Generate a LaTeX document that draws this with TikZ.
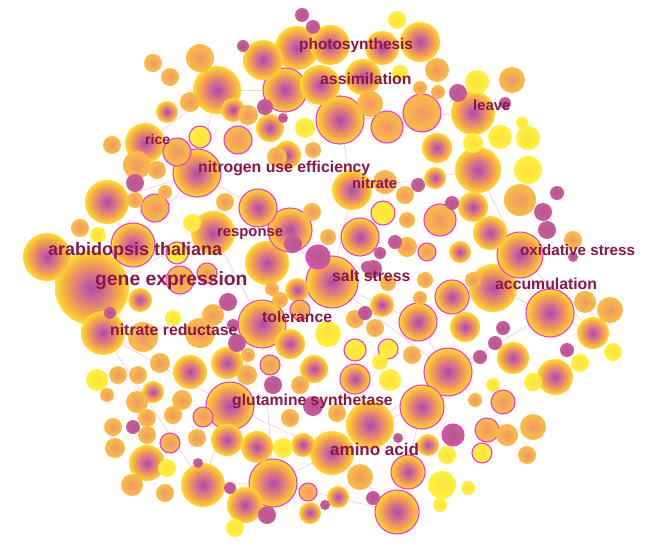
\documentclass[tikz,border=0pt]{standalone}
\usepackage{fontspec}
\setmainfont{Liberation Sans}
\definecolor{cP}{RGB}{170,76,170}
\definecolor{cPk}{RGB}{212,108,145}
\definecolor{cO}{RGB}{246,168,72}
\definecolor{cY}{RGB}{255,226,40}
\definecolor{cY2}{RGB}{255,238,50}
\definecolor{oC}{RGB}{238,150,100}
\definecolor{oM}{RGB}{247,178,78}
\definecolor{oE}{RGB}{252,198,62}
\definecolor{yC}{RGB}{253,225,62}
\definecolor{yM}{RGB}{255,236,58}
\definecolor{yE}{RGB}{255,242,65}
\definecolor{mC}{RGB}{186,82,150}
\definecolor{mE}{RGB}{202,100,150}
\definecolor{ringc}{RGB}{232,60,215}
\definecolor{edgec}{RGB}{238,200,228}
\definecolor{labc}{RGB}{138,22,72}
\pgfdeclareradialshading{nodeS}{\pgfpoint{0bp}{0bp}}{color(0bp)=(cP); color(8bp)=(cPk); color(18bp)=(cO); color(26bp)=(cY); color(35bp)=(cY2); color(50bp)=(cY2)}
\pgfdeclareradialshading{nodeO}{\pgfpoint{0bp}{0bp}}{color(0bp)=(oC); color(16bp)=(oM); color(35bp)=(oE); color(50bp)=(oE)}
\pgfdeclareradialshading{nodeY}{\pgfpoint{0bp}{0bp}}{color(0bp)=(yC); color(16bp)=(yM); color(35bp)=(yE); color(50bp)=(yE)}
\pgfdeclareradialshading{nodeM}{\pgfpoint{0bp}{0bp}}{color(0bp)=(mC); color(35bp)=(mE); color(50bp)=(mE)}
\pgfdeclarelayer{bg}
\pgfsetlayers{bg,main}
\begin{document}
\begin{tikzpicture}[x=1pt,y=-1pt,
  ringline/.style={draw=ringc,line width=1.1pt},
  edge/.style={draw=edgec,line width=0.6pt},
  lab/.style={text=labc,inner sep=0pt,anchor=mid west},
  labsz/.style={font=\bfseries\fontsize{#1}{#1}\selectfont}]
\useasboundingbox (0,0) rectangle (661,549);
% hub coordinates
\coordinate (ge) at (92,288);
\coordinate (at) at (133,245);
\coordinate (nr) at (103,333);
\coordinate (nue) at (197,173);
\coordinate (rice) at (145,143);
\coordinate (resp) at (213,233);
\coordinate (ph) at (297,48);
\coordinate (as) at (320,85);
\coordinate (lv) at (473,113);
\coordinate (nit) at (352,190);
\coordinate (ss) at (332,282);
\coordinate (tol) at (262,324);
\coordinate (gs) at (230,406);
\coordinate (aa) at (332,453);
\coordinate (ox) at (520,255);
\coordinate (acc) at (493,288);
\coordinate (h1) at (448,372);
\coordinate (h2) at (422,407);
\coordinate (h3) at (273,483);
\coordinate (h4) at (397,512);
\coordinate (h5) at (550,313);
\coordinate (h6) at (340,120);
\coordinate (h7) at (258,208);
\coordinate (h8) at (203,485);
\coordinate (h9) at (418,322);
\coordinate (h10) at (478,170);
\coordinate (h11) at (47,257);
\coordinate (h12) at (107,202);
\coordinate (h13) at (593,333);
\coordinate (h14) at (370,425);
\coordinate (h15) at (285,90);
\coordinate (h16) at (217,90);
\begin{pgfonlayer}{bg}
\fill[white] (0,0) rectangle (661,549);
\foreach \a/\b in {ge/at,ge/nr,ge/resp,ge/h11,at/nue,nue/rice,nue/h7,h7/ss,ss/tol,tol/gs,gs/aa,aa/h4,h3/h4,h3/h8,h8/gs,ss/h1,h1/h2,h2/h4,h9/ss,h9/acc,acc/ox,ox/h5,h5/h1,nit/ss,nit/h10,h10/lv,lv/h6,h6/as,as/ph,h6/nit,resp/tol,nr/gs,h9/h1,ox/h10,h12/nue,h3/aa,h5/acc,h13/h5,h14/h2,h14/aa,h15/h6,h16/nue,h16/h15,rice/h16,h12/at,tol/h3,nr/h8,h13/ox,lv/h10,h14/h1}
  \draw[edge] (\a) -- (\b);
\end{pgfonlayer}
% large circles
\foreach \x/\y/\r/\t/\k in {
92/288/37/S/0, 47/257/24/S/0, 217/90/24/S/0, 197/173/24/S/1, 340/120/24/S/1,
448/372/24/S/1, 230/406/24/S/1, 273/483/24/S/1, 262/324/24/S/1, 550/313/24/S/1,
493/288/24/S/0, 370/425/24/S/0, 478/170/23/S/0, 520/255/23/S/1, 332/282/26/S/1,
297/48/22/S/0, 285/90/22/S/1, 473/113/22/S/0, 107/202/22/S/0, 213/233/22/S/0,
267/263/22/S/0, 290/230/22/S/1, 133/245/22/S/1, 103/333/22/S/0, 332/453/22/S/0,
203/485/22/S/0, 422/407/22/S/1, 397/512/22/S/1, 263/60/20/S/0, 330/45/20/S/0,
420/42/20/S/0, 320/85/20/S/0, 145/143/20/S/0, 352/190/20/S/0, 258/208/19/S/1,
360/237/19/S/1, 418/322/19/S/1, 422/113/19/O/1, 363/77/18/S/0, 555/377/18/S/0,
190/372/17/S/0, 147/463/18/S/0, 245/505/18/S/0}
{\shade[shading=node\t] (\x,\y) circle (\r pt);
 \ifnum\k=1 \draw[ringline] (\x,\y) circle (\r pt);\fi}
% medium circles
\foreach \x/\y/\r/\t/\k in {
382/48/17/S/0, 490/233/17/S/0, 452/297/17/S/1, 408/472/17/S/1, 387/127/16/O/1,
440/220/16/O/1, 520/200/16/O/0, 593/333/16/S/0, 513/358/16/S/0, 227/363/16/S/0,
227/440/16/S/0, 257/447/16/S/0, 437/148/15/S/0, 473/207/15/S/0, 465/327/15/S/0,
290/344/15/S/0, 355/379/15/S/1, 143/337/15/O/0, 200/333/15/O/0, 314/369/14/S/0,
270/128/14/S/0, 287/155/14/S/0, 238/140/14/O/1, 177/152/14/O/1, 137/165/14/O/0,
200/58/14/O/0, 155/208/14/O/1, 180/280/14/O/1, 528/170/14/Y/0, 442/485/14/Y/0,
370/104/13/O/0, 512/80/13/O/0, 610/310/13/O/0, 533/427/13/O/0, 360/477/13/O/0,
328/334/13/Y/0, 233/110/12/S/0, 140/300/12/S/0, 297/290/12/S/0, 382/305/12/S/0,
303/445/12/S/0, 437/70/12/O/0, 385/182/12/O/0, 503/402/12/O/1, 487/430/12/O/1,
383/213/12/Y/1, 318/257/12/M/1, 477/82/12/Y/0, 528/138/12/Y/0, 500/137/12/Y/0,
167/112/11/S/0, 435/178/11/S/0, 460/252/11/S/0, 153/392/11/S/0, 428/445/11/S/0,
310/513/11/S/0, 338/497/11/S/0, 585/302/11/O/0, 507/435/11/O/0, 213/315/11/O/0,
97/380/11/Y/0, 137/402/11/O/0, 132/485/11/O/0, 200/137/11/Y/1, 177/253/11/Y/1,
355/350/11/Y/1, 453/435/11/M/1, 390/380/11/Y/0}
{\shade[shading=node\t] (\x,\y) circle (\r pt);
 \ifnum\k=1 \draw[ringline] (\x,\y) circle (\r pt);\fi}
% small circles
\foreach \x/\y/\r/\t/\k in {
190/102/10/O/0, 248/115/10/O/0, 277/157/10/O/0, 407/247/10/O/0, 207/273/10/O/1,
300/310/10/O/1, 160/363/10/O/0, 247/375/10/O/0, 182/400/10/O/0, 115/448/10/O/0,
270/365/10/O/1, 203/417/10/O/1, 170/443/10/O/1, 388/349/10/Y/1, 482/453/10/Y/1,
305/128/10/Y/0, 473/143/10/Y/0, 283/448/10/Y/0, 153/63/9/O/0, 170/77/9/O/0,
112/145/9/O/0, 157/170/9/O/0, 225/202/9/O/0, 80/228/9/O/0, 405/195/9/O/0,
573/240/9/O/0, 312/212/9/O/0, 118/375/9/O/0, 138/375/9/O/0, 300/385/9/O/0,
173/415/9/O/0, 147/418/9/O/0, 113/427/9/O/0, 147/435/9/O/0, 197/438/9/O/0,
165/493/9/O/0, 235/528/9/Y/0, 308/492/9/O/1, 290/418/9/O/0, 337/413/9/O/0,
375/328/9/O/0, 412/355/9/O/0, 527/455/9/O/0, 355/319/9/O/0, 427/252/9/O/1,
397/20/9/Y/0, 192/223/9/Y/0, 167/468/9/Y/0, 613/352/9/Y/0, 580/363/9/Y/0,
533/382/9/Y/0, 447/455/9/Y/0, 135/200/8/O/0, 313/150/8/O/0, 407/220/8/O/0,
280/300/8/O/0, 473/280/8/O/0, 425/280/8/O/0, 388/283/8/O/0, 328/237/8/O/0,
400/73/8/Y/0, 98/235/8/Y/0, 173/318/8/Y/0, 380/362/8/Y/0, 165/192/7/O/0,
420/88/7/O/0, 438/92/7/O/0, 272/289/7/O/0, 248/355/7/O/0, 420/298/7/O/0,
475/400/7/O/0, 493/385/7/Y/0, 468/488/7/Y/0, 440/505/7/Y/0, 522/123/6/Y/0,
107/395/7/O/0}
{\shade[shading=node\t] (\x,\y) circle (\r pt);
 \ifnum\k=1 \draw[ringline] (\x,\y) circle (\r pt);\fi}
% mauve dots
\foreach \x/\y/\r in {
302/15/7, 313/27/7, 243/46/6, 265/107/8, 283/118/5, 135/183/9, 110/313/6,
228/302/9, 237/343/9, 233/325/6, 273/385/9, 133/427/7, 198/463/5, 230/488/6,
267/515/9, 325/505/5, 373/498/7, 398/438/5, 313/406/10, 418/185/7, 452/203/7,
458/93/9, 395/242/7, 380/253/6, 367/267/6, 557/193/7, 543/212/9, 547/230/9,
573/257/5, 365/313/7, 373/269/9, 503/328/7, 495/343/7, 480/357/7, 567/350/7,
293/244/9, 505/103/6}
{\shade[shading=nodeM] (\x,\y) circle (\r pt);}
% labels
\node[lab,labsz=15.4] (lph) at (299,47) {photosynthesis};
\node[lab,labsz=15.8] (las) at (320,82) {assimilation};
\node[lab,labsz=14.8] (llv) at (473,108) {leave};
\node[lab,labsz=14] (lri) at (145,142) {rice};
\node[lab,labsz=15.8] (lnu) at (198,170) {nitrogen use efficiency};
\node[lab,labsz=14.7] (lni) at (352,186) {nitrate};
\node[lab,labsz=14.8] (lre) at (217,234) {response};
\node[lab,labsz=18] (lat) at (48,253) {arabidopsis thaliana};
\node[lab,labsz=15.2] (lox) at (520,253) {oxidative stress};
\node[lab,labsz=15.8] (lss) at (332,279) {salt stress};
\node[lab,labsz=19.3] (lge) at (95,283) {gene expression};
\node[lab,labsz=15.8] (lac) at (495,287) {accumulation};
\node[lab,labsz=15.7] (lto) at (262,320) {tolerance};
\node[lab,labsz=15.8] (lnr) at (110,333) {nitrate reductase};
\node[lab,labsz=15.7] (lgs) at (232,403) {glutamine synthetase};
\node[lab,labsz=17] (laa) at (330,453) {amino acid};
\end{tikzpicture}
\end{document}
